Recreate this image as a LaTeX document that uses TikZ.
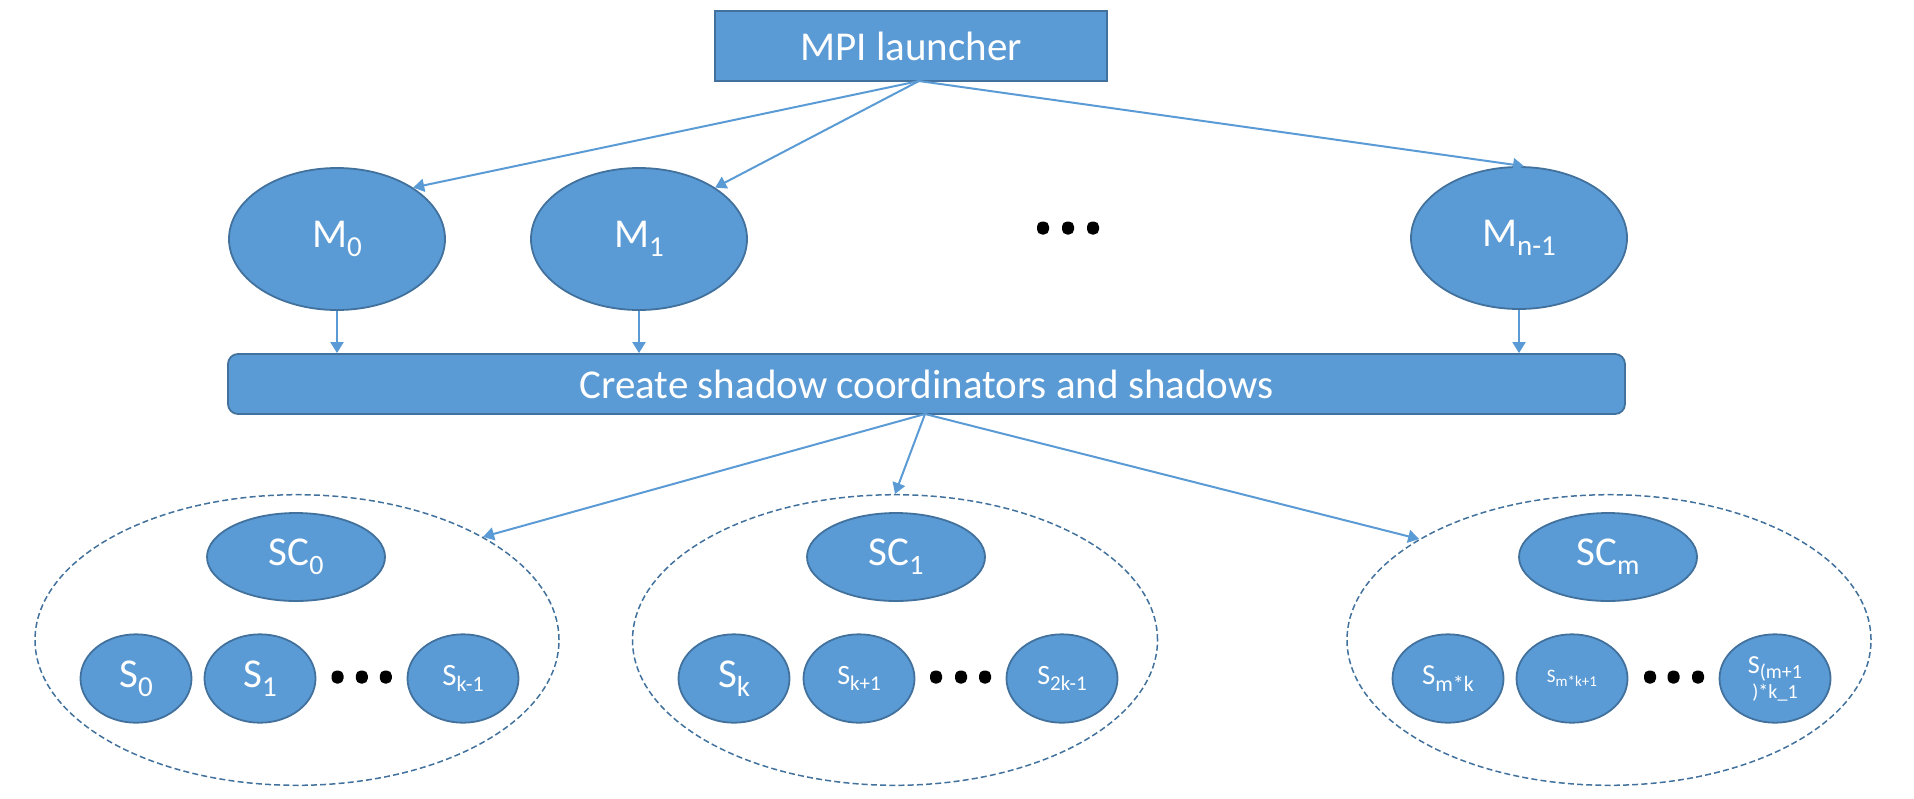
\documentclass[tikz,border=0pt]{standalone}
\usepackage{fontspec}
\setmainfont{Carlito}
\usetikzlibrary{shapes.geometric,arrows.meta,calc}
\definecolor{fillblue}{HTML}{5B9BD5}
\definecolor{edgeblue}{HTML}{41719C}
\newcommand{\sbs}[2]{\raisebox{-0.22em}{\fontsize{#1}{#1}\selectfont #2}}
\begin{document}
\begin{tikzpicture}[x=0.5pt,y=-0.5pt,
 boxbase/.style={draw=edgeblue,fill=fillblue,line width=0.9pt,text=white,inner sep=0pt,font=\fontsize{20.5}{24}\selectfont},
 oval/.style={boxbase,ellipse},
 mnode/.style={oval,minimum width=108pt,minimum height=71pt},
 scnode/.style={oval,minimum width=89pt,minimum height=44pt},
 snode/.style={oval,minimum width=55.5pt,minimum height=44.2pt},
 grp/.style={ellipse,draw=edgeblue,line width=0.75pt,dash pattern=on 3pt off 1.6pt,minimum width=262pt,minimum height=145.3pt,inner sep=0pt},
 blackdot/.style={fill=black,rounded corners=2.5pt,minimum width=6pt,minimum height=6.5pt,inner sep=0pt},
 conn/.style={draw=fillblue,line width=1pt,-{Triangle[length=5.5pt,width=6.5pt]}}
]
\useasboundingbox (0,0) rectangle (1914,798);

% top
\node[boxbase,minimum width=196pt,minimum height=35pt] (launcher) at (911,46) {MPI launcher};
\node[mnode] (M0) at (337,239) {M\sbs{14.5}{0}};
\node[mnode] (M1) at (639,239) {M\sbs{14.5}{1}};
\node[mnode] (Mn) at (1519,238) {M\sbs{14.5}{n-1}};
\node[blackdot] (md1) at (1043,228) {};
\node[blackdot] (md2) at (1068,228) {};
\node[blackdot] (md3) at (1093,228) {};

\node[boxbase,rounded corners=5pt,minimum width=698.5pt,minimum height=30pt] (create) at (926.5,384) {Create shadow coordinators and shadows};

% groups
\node[grp] (G1) at (297,640) {};
\node[grp,minimum width=262.5pt] (G2) at (895,640) {};
\node[grp] (G3) at (1609,640) {};

\node[scnode] (SC0) at (296,557) {SC\sbs{14}{0}};
\node[scnode] (SC1) at (896,557) {SC\sbs{14}{1}};
\node[scnode] (SCm) at (1608,557) {SC\sbs{14}{m}};

\node[snode] (S0) at (136,678.5) {S\sbs{14.5}{0}};
\node[snode] (S1) at (260,678.5) {S\sbs{14.5}{1}};
\node[blackdot] (a1) at (337.5,677) {};
\node[blackdot] (a2) at (361.8,677) {};
\node[blackdot] (a3) at (385.8,677) {};
\node[snode,font=\fontsize{15.5}{18}\selectfont] (Sk1) at (463,678.5) {S\sbs{11}{k-1}};

\node[snode] (Sk) at (734,678.5) {S\sbs{14.5}{k}};
\node[snode,font=\fontsize{14}{17}\selectfont] (Skp) at (859,678.5) {S\sbs{10.5}{k+1}};
\node[blackdot] (b1) at (936,677) {};
\node[blackdot] (b2) at (961,677) {};
\node[blackdot] (b3) at (985,677) {};
\node[snode,font=\fontsize{14}{17}\selectfont] (S2k) at (1062,678.5) {S\sbs{10.5}{2k-1}};

\node[snode,font=\fontsize{14.5}{17}\selectfont] (Smk) at (1448,678.5) {S\sbs{11}{m*k}};
\node[snode,font=\fontsize{9.5}{12}\selectfont] (Smk1) at (1572,678.5) {S\sbs{7.5}{m*k+1}};
\node[blackdot] (c1) at (1650,677) {};
\node[blackdot] (c2) at (1673.5,677) {};
\node[blackdot] (c3) at (1698,677) {};
\node[snode,align=center,font=\fontsize{13}{12.5}\selectfont] (Slast) at (1775,678.5) {S\sbs{10}{(m+1}\\\fontsize{10}{12.5}\selectfont )*k\_1};

% connectors
\coordinate (lo) at (919,81);
\draw[conn] (lo) -- (M0.34);
\draw[conn] (lo) -- (M1.34);
\draw[conn] (lo) -- (Mn.86);
\draw[conn] (M0.south) -- (M0.south |- create.north);
\draw[conn] (M1.south) -- (M1.south |- create.north);
\draw[conn] (Mn.south) -- (Mn.south |- create.north);
\coordinate (co) at (925,414);
\draw[conn] (co) -- (G1.29);
\draw[conn] (co) -- (G2.north);
\draw[conn] (co) -- (G3.152);
\end{tikzpicture}
\end{document}
